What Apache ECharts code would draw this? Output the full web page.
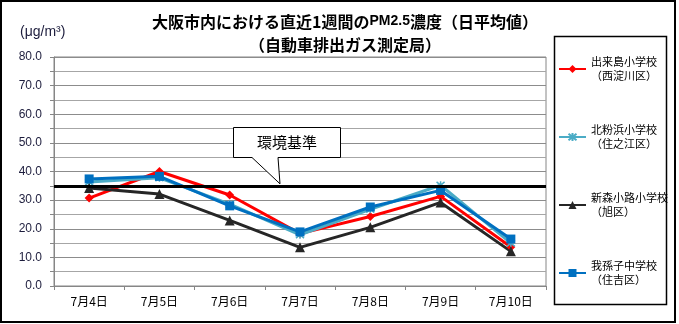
<!DOCTYPE html>
<html>
<head>
<meta charset="utf-8">
<script src="https://cdn.jsdelivr.net/npm/echarts@6/dist/echarts.min.js"></script>
<style>
  html, body { margin: 0; padding: 0; background: #fff; }
  #chart { width: 679px; height: 324px; }
</style>
</head>
<body>
<div id="chart"></div>
<script>
// Daily mean PM2.5 at roadside monitoring stations, Osaka City
const days = ['7月4日', '7月5日', '7月6日', '7月7日', '7月8日', '7月9日', '7月10日'];
const dekijima = [30.7, 40.0, 31.8, 18.3, 24.3, 31.3, 13.6];    // 出来島小学校（西淀川区）
const kitakohama = [36.3, 37.8, 28.6, 17.9, 26.8, 35.2, 15.0];  // 北粉浜小学校（住之江区）
const shinmori = [34.2, 32.1, 22.9, 13.5, 20.5, 29.2, 12.1];    // 新森小路小学校（旭区）
const abiko = [37.4, 38.3, 28.0, 18.9, 27.6, 33.4, 16.4];       // 我孫子中学校（住吉区）
const stationNames = ['出来島小学校', '北粉浜小学校', '新森小路小学校', '我孫子中学校'];
const wards = ['（西淀川区）', '（住之江区）', '（旭区）', '（住吉区）'];
const standard = 35.0; // 環境基準
const yTicks = { min: 0, max: 80, interval: 10 };

const FONT = '"Noto Sans CJK JP", "Noto Sans", sans-serif';
const NUMFONT = '"Liberation Sans", "DejaVu Sans", sans-serif';

const chart = echarts.init(document.getElementById('chart'));

const asterisk = 'path://M0,0L10,10M10,0L0,10M5,-1L5,11';

function makeSeries(name, data, color, symbol, size, extra) {
  return Object.assign({
    name: name,
    type: 'line',
    data: data,
    symbol: symbol,
    symbolSize: size,
    showAllSymbol: true,
    lineStyle: { color: color, width: 3 },
    itemStyle: { color: color, borderColor: color, borderWidth: 0 },
    emphasis: { disabled: true },
    animation: false
  }, extra || {});
}

const wardOf = {};
stationNames.forEach((n, i) => { wardOf[n] = wards[i]; });

chart.setOption({
  animation: false,
  textStyle: { fontFamily: FONT },
  title: {
    left: 340,
    top: 5,
    textAlign: 'center',
    text: '{a|大阪市内における直近1週間の}{b|PM2.5}{a|濃度（日平均値）}\n{a|（自動車排出ガス測定局）}',
    textStyle: {
      rich: {
        a: { fontFamily: FONT, fontSize: 16, fontWeight: 'bold', color: '#000', lineHeight: 23 },
        b: { fontFamily: NUMFONT, fontSize: 14, fontWeight: 'bold', color: '#000', lineHeight: 23 }
      }
    }
  },
  grid: {
    left: 54, right: 133, top: 57, bottom: 38,
    show: true, borderColor: '#868686', borderWidth: 1
  },
  legend: {
    orient: 'vertical',
    left: 558,
    top: 48,
    padding: 0,
    itemGap: 26,
    itemWidth: 27,
    itemHeight: 10,
    data: stationNames,
    formatter: n => n + '\n' + wardOf[n],
    textStyle: {
      fontFamily: FONT, fontSize: 11, color: '#000',
      lineHeight: 14, padding: [14, 0, 0, 0]
    }
  },
  xAxis: {
    type: 'category',
    data: days,
    boundaryGap: true,
    axisLine: { lineStyle: { color: '#868686' } },
    axisTick: { show: true, length: 4, inside: false, lineStyle: { color: '#868686' } },
    axisLabel: { fontFamily: FONT, fontSize: 12, color: '#000', margin: 9 },
    splitLine: { show: false }
  },
  yAxis: {
    type: 'value',
    min: yTicks.min,
    max: yTicks.max,
    interval: yTicks.interval,
    axisLine: { show: true, lineStyle: { color: '#868686' } },
    axisTick: { show: true, length: 4, lineStyle: { color: '#868686' } },
    minorTick: { show: true, splitNumber: 2, length: 4, lineStyle: { color: '#868686' } },
    axisLabel: {
      fontFamily: NUMFONT, fontSize: 12, color: '#1c1c3c', margin: 12,
      formatter: v => v.toFixed(1)
    },
    splitLine: { show: true, lineStyle: { color: '#8c8c8c', width: 1 } },
    minorSplitLine: { show: true, lineStyle: { color: '#a6a6a6', width: 1 } }
  },
  series: [
    makeSeries(stationNames[0], dekijima, '#FF0000', 'diamond', 9),
    makeSeries(stationNames[1], kitakohama, '#4BACC6', asterisk, 8,
      { itemStyle: { color: '#4BACC6', borderColor: '#4BACC6', borderWidth: 1.5 } }),
    makeSeries(stationNames[2], shinmori, '#262626', 'triangle', 10),
    makeSeries(stationNames[3], abiko, '#0070C0', 'rect', 9, {
      markLine: {
        silent: true,
        symbol: ['none', 'none'],
        label: { show: false },
        lineStyle: { color: '#000', width: 3, type: 'solid' },
        data: [{ yAxis: standard }]
      }
    })
  ]
});

// Callout pointing at the standard line, plus the unit label and frames
const tip = chart.convertToPixel({ yAxisIndex: 0 }, standard);
const tipY = tip - 2;
chart.setOption({
  graphic: [
    {
      type: 'rect', z: 0, silent: true,
      shape: { x: 1, y: 1, width: 674, height: 321 },
      style: { fill: 'none', stroke: '#000', lineWidth: 2 }
    },
    {
      type: 'rect', z: 0, silent: true,
      shape: { x: 554.5, y: 36.5, width: 112, height: 268 },
      style: { fill: 'none', stroke: '#000', lineWidth: 1.5 }
    },
    {
      type: 'text', silent: true,
      left: 20, top: 25,
      style: { text: '(μg/m³)', font: '14px ' + NUMFONT, fill: '#1c1c3c' }
    },
    {
      type: 'polygon', z: 100, silent: true,
      shape: {
        points: [[233.5, 127.5], [340.5, 127.5], [340.5, 157.5], [278, 157.5],
                 [280, tipY], [252, 157.5], [233.5, 157.5]]
      },
      style: { fill: '#fff', stroke: '#000', lineWidth: 1 }
    },
    {
      type: 'text', z: 101, silent: true,
      x: 287, y: 142,
      style: {
        text: '環境基準', font: '15px ' + FONT, fill: '#000',
        align: 'center', verticalAlign: 'middle'
      }
    }
  ]
});
</script>
</body>
</html>
